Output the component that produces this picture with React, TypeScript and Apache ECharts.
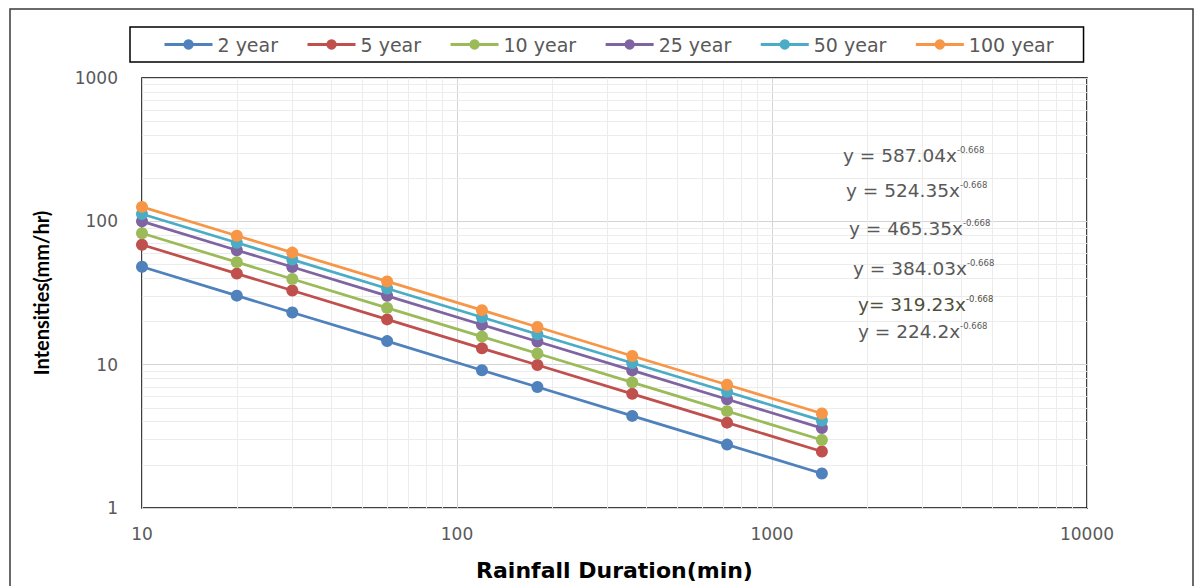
import React, { useEffect, useRef } from "react";
import * as echarts from "echarts";

const durations = [10, 20, 30, 60, 120, 180, 360, 720, 1440];
const seriesNames = ["2 year", "5 year", "10 year", "25 year", "50 year", "100 year"];
const y2 = [48.2, 30.3, 23.1, 14.6, 9.15, 6.98, 4.39, 2.77, 1.74];
const y5 = [68.6, 43.2, 32.9, 20.7, 13.0, 9.94, 6.26, 3.94, 2.48];
const y10 = [82.5, 51.9, 39.6, 24.9, 15.7, 11.96, 7.53, 4.74, 2.98];
const y25 = [100.0, 62.9, 48.0, 30.2, 19.0, 14.5, 9.12, 5.74, 3.61];
const y50 = [112.6, 70.9, 54.1, 34.0, 21.4, 16.3, 10.28, 6.47, 4.07];
const y100 = [126.1, 79.4, 60.5, 38.1, 24.0, 18.3, 11.5, 7.24, 4.56];
const colors = ["#4F81BD", "#C0504D", "#9BBB59", "#8064A2", "#4BACC6", "#F79646"];
const equations = [
  { c: "y = 587.04x", e: "-0.668" },
  { c: "y = 524.35x", e: "-0.668" },
  { c: "y = 465.35x", e: "-0.668" },
  { c: "y = 384.03x", e: "-0.668" },
  { c: "y= 319.23x", e: "-0.668" },
  { c: "y = 224.2x", e: "-0.668" },
];
const xMinor = [20, 30, 40, 50, 60, 70, 80, 90, 200, 300, 400, 500, 600, 700, 800, 900, 2000, 3000, 4000, 5000, 6000, 7000, 8000, 9000];
const yMinor = [2, 3, 4, 5, 6, 7, 8, 9, 20, 30, 40, 50, 60, 70, 80, 90, 200, 300, 400, 500, 600, 700, 800, 900];

const WIDE = "'DejaVu Sans', 'Open Sans', sans-serif";
const NARROW = "Lato, 'Open Sans', sans-serif";

export default function App() {
  const ref = useRef<HTMLDivElement>(null);
  useEffect(() => {
    document.body.style.margin = "0";
    const chart = echarts.init(ref.current!, null, { renderer: "svg" });
    const allY = [y2, y5, y10, y25, y50, y100];
    const eqPos = [
      [843, 155], [846, 190], [849, 228], [853, 268], [858, 304], [858, 331],
    ];
    const eqColors = ["#595959", "#595959", "#595959", "#595959", "#4f4f3a", "#595959"];
    chart.setOption({
      animation: false,
      color: colors,
      textStyle: { fontFamily: WIDE },
      legend: {
        left: 130,
        top: 27,
        padding: [8, 30, 8, 33],
        itemGap: 28,
        itemWidth: 48,
        itemHeight: 13,
        borderColor: "#000",
        borderWidth: 1.5,
        lineStyle: { width: 3 },
        textStyle: { fontSize: 19, color: "#595959", fontFamily: WIDE },
        data: seriesNames,
      },
      grid: {
        left: 142,
        top: 78,
        right: 1197 - 1087,
        bottom: 70,
        show: true,
        borderColor: "#000",
        borderWidth: 1.5,
        containLabel: false,
      },
      xAxis: {
        type: "log",
        logBase: 10,
        min: 10,
        max: 10000,
        name: "Rainfall Duration(min)",
        nameLocation: "middle",
        nameGap: 51,
        nameTextStyle: { fontSize: 22, fontWeight: "bold", color: "#000", fontFamily: WIDE },
        axisLine: { show: false },
        axisTick: { show: false },
        axisLabel: { fontSize: 17, color: "#595959", margin: 17, fontFamily: WIDE, formatter: (v: number) => String(v) },
        splitLine: { show: true, lineStyle: { color: "#d4d4d4", width: 1 } },
      },
      yAxis: {
        type: "log",
        logBase: 10,
        min: 1,
        max: 1000,
        name: "Intensities(mm/hr)",
        nameLocation: "middle",
        nameGap: 91,
        nameTextStyle: { fontSize: 20, fontWeight: "bold", color: "#000", fontFamily: NARROW },
        axisLine: { show: false },
        axisTick: { show: false },
        axisLabel: { fontSize: 17, color: "#595959", margin: 24, fontFamily: WIDE, formatter: (v: number) => String(v) },
        splitLine: { show: true, lineStyle: { color: "#d4d4d4", width: 1 } },
      },
      series: [
        {
          type: "line",
          name: "__minor",
          data: [],
          z: 1,
          silent: true,
          markLine: {
            silent: true,
            z: 1,
            symbol: ["none", "none"],
            label: { show: false },
            lineStyle: { color: "#ececec", width: 1, type: "solid" },
            emphasis: { disabled: true },
            data: [
              ...xMinor.map((v) => ({ xAxis: v })),
              ...yMinor.map((v) => ({ yAxis: v })),
            ],
          },
        },
        ...seriesNames.map((n, i) => ({
          type: "line",
          name: n,
          z: 3,
          data: durations.map((d, j) => [d, allY[i][j]]),
          symbol: "circle",
          symbolSize: 12,
          lineStyle: { width: 2.75, color: colors[i] },
          itemStyle: { color: colors[i] },
        })),
      ],
      graphic: [
        {
          type: "rect",
          shape: { x: 10, y: 9, width: 1183, height: 600 },
          style: { fill: "none", stroke: "#3a3a3a", lineWidth: 1.5 },
          silent: true,
        },
        ...equations.map((eq, i) => ({
          type: "text",
          x: eqPos[i][0],
          y: eqPos[i][1],
          z: 10,
          style: {
            text: `{a|${eq.c}}{s|${eq.e}}`,
            verticalAlign: "middle",
            rich: {
              a: { fontSize: 18.5, fill: eqColors[i], fontFamily: WIDE },
              s: { fontSize: 8.5, fill: eqColors[i], fontFamily: WIDE, padding: [0, 0, 11, 0] },
            },
          },
          silent: true,
        })),
      ],
    });
    return () => chart.dispose();
  }, []);
  return <div ref={ref} style={{ width: 1197, height: 586 }} />;
}
